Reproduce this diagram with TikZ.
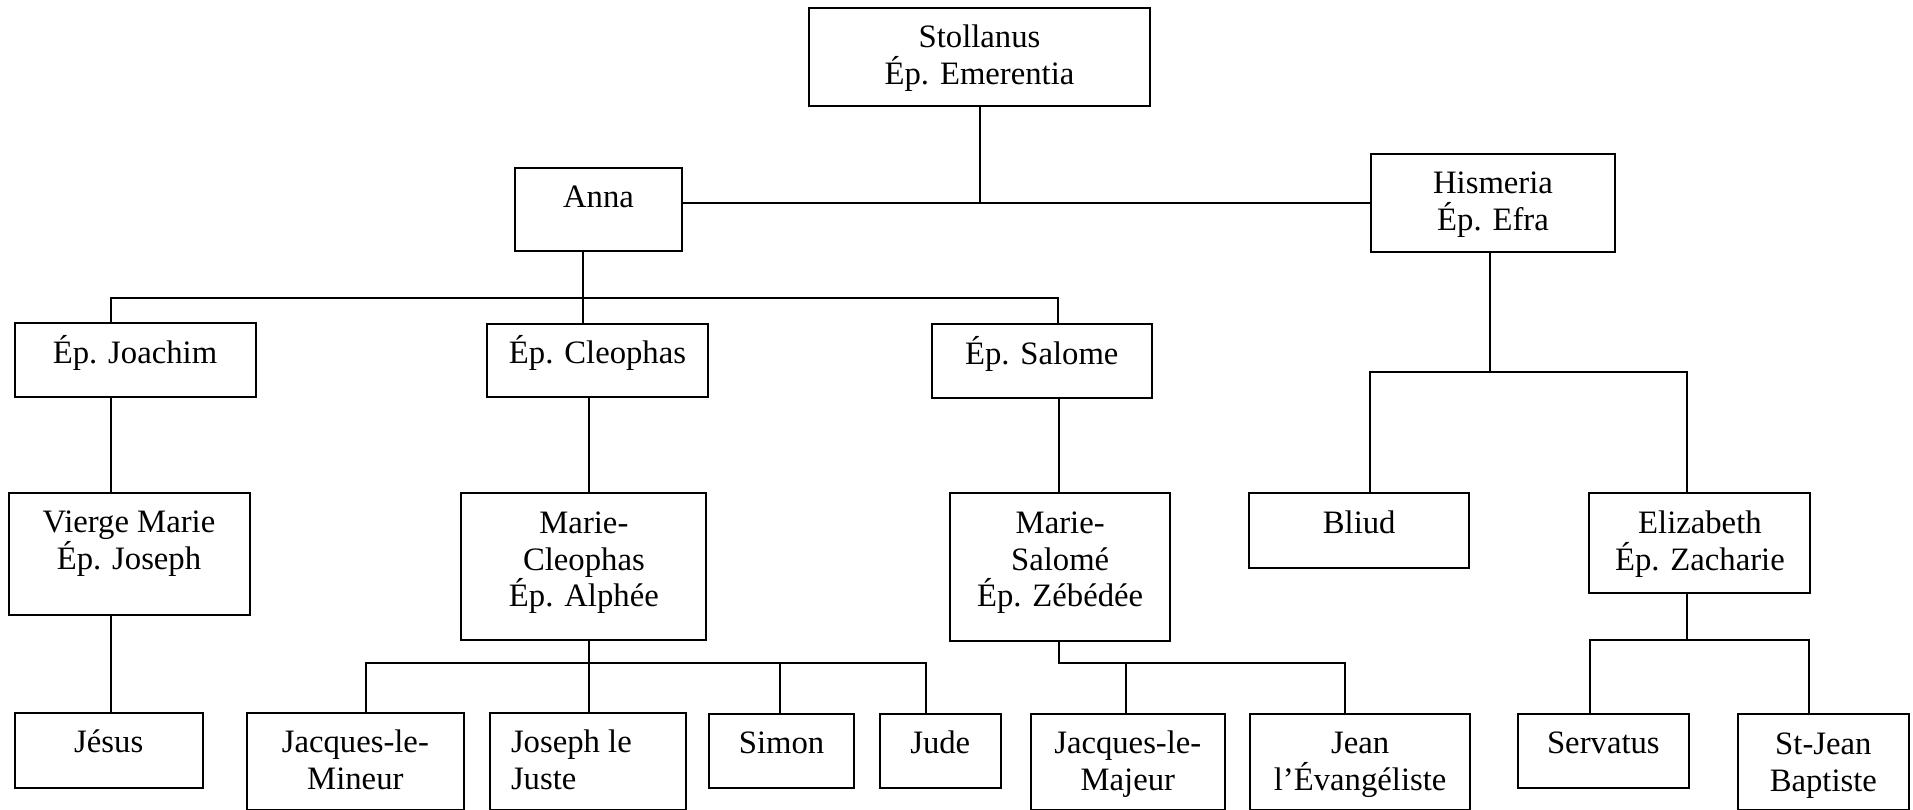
\documentclass[tikz,border=0pt]{standalone}
\usepackage{fontspec}
\setmainfont{Liberation Serif}
\usepackage{tikz}
\usetikzlibrary{positioning,calc}
\newcommand{\famstrut}{\rule{0pt}{32pt}}

\begin{document}
\begin{tikzpicture}[x=1pt, y=-1pt, line width=2pt]
   \useasboundingbox (0,0) rectangle (1913,810);
   \begin{scope}[every node/.style={draw, rectangle, inner sep=0pt, anchor=north west}]
    \node (stollanus) [minimum width=341pt, minimum height=98pt] at (808,7) {};
    \node (anna) [minimum width=167pt, minimum height=83pt] at (514,167) {};
    \node (hismeria) [minimum width=244pt, minimum height=98pt] at (1370,153) {};
    \node (joachim) [minimum width=241pt, minimum height=73.5pt] at (13.5,322.3) {};
    \node (cleophas) [minimum width=221pt, minimum height=73pt] at (486,322.7) {};
    \node (salome) [minimum width=219.5pt, minimum height=73.5pt] at (931,323) {};
    \node (vierge) [minimum width=241pt, minimum height=122.3pt] at (7.5,491.7) {};
    \node (mcleophas) [minimum width=245pt, minimum height=146.7pt] at (460.4,492.3) {};
    \node (msalome) [minimum width=219.7pt, minimum height=147.4pt] at (949.3,492.3) {};
    \node (bliud) [minimum width=219.6pt, minimum height=74.4pt] at (1248.4,492.3) {};
    \node (elizabeth) [minimum width=221pt, minimum height=99.4pt] at (1588.4,492.3) {};
    \node (jesus) [minimum width=188.5pt, minimum height=75pt] at (13.5,711.7) {};
    \node (jmineur) [minimum width=216.7pt, minimum height=97.3pt] at (246,711.7) {};
    \node (joseph) [minimum width=196pt, minimum height=97.3pt] at (488.5,711.7) {};
    \node (simon) [minimum width=144.5pt, minimum height=74pt] at (708.3,712.7) {};
    \node (jude) [minimum width=121.5pt, minimum height=74pt] at (878.5,712.7) {};
    \node (jmajeur) [minimum width=193.6pt, minimum height=96.3pt] at (1030,712.7) {};
    \node (jean) [minimum width=220.3pt, minimum height=96.3pt] at (1249,712.7) {};
    \node (servatus) [minimum width=170.7pt, minimum height=74.6pt] at (1517,712.7) {};
    \node (stjean) [minimum width=171.3pt, minimum height=95.7pt] at (1736.7,713.3) {};
   \end{scope}
   \begin{scope}[every node/.style={anchor=north, inner sep=0pt, align=center,
       font=\fontsize{32.7}{36.7}\selectfont}]
    \node (t-stollanus) at ([yshift=-8pt]stollanus.north) {\famstrut Stollanus\\Ép. Emerentia};
    \node (t-anna) at ([yshift=-8pt]anna.north) {\famstrut Anna};
    \node (t-hismeria) at ([yshift=-8pt]hismeria.north) {\famstrut Hismeria\\Ép. Efra};
    \node (t-joachim) at ([yshift=-8pt]joachim.north) {\famstrut Ép. Joachim};
    \node (t-cleophas) at ([yshift=-8pt]cleophas.north) {\famstrut Ép. Cleophas};
    \node (t-salome) at ([yshift=-8pt]salome.north) {\famstrut Ép. Salome};
    \node (t-vierge) at ([yshift=-8pt]vierge.north) {\famstrut Vierge Marie\\Ép. Joseph};
    \node (t-mcleophas) at ([yshift=-8pt]mcleophas.north) {\famstrut Marie-\\Cleophas\\Ép. Alphée};
    \node (t-msalome) at ([yshift=-8pt]msalome.north) {\famstrut Marie-\\Salomé\\Ép. Zébédée};
    \node (t-bliud) at ([yshift=-8pt]bliud.north) {\famstrut Bliud};
    \node (t-elizabeth) at ([yshift=-8pt]elizabeth.north) {\famstrut Elizabeth\\Ép. Zacharie};
    \node (t-jesus) at ([yshift=-8pt]jesus.north) {\famstrut Jésus};
    \node (t-jmineur) at ([yshift=-8pt]jmineur.north) {\famstrut Jacques-le-\\Mineur};
    \node (t-joseph) [anchor=north west, align=left] at ([xshift=21.5pt, yshift=-8pt]joseph.north west) {\famstrut Joseph le\\Juste};
    \node (t-simon) at ([yshift=-8pt]simon.north) {\famstrut Simon};
    \node (t-jude) at ([yshift=-8pt]jude.north) {\famstrut Jude};
    \node (t-jmajeur) at ([yshift=-8pt]jmajeur.north) {\famstrut Jacques-le-\\Majeur};
    \node (t-jean) at ([yshift=-8pt]jean.north) {\famstrut Jean\\l’Évangéliste};
    \node (t-servatus) at ([yshift=-8pt]servatus.north) {\famstrut Servatus};
    \node (t-stjean) at ([yshift=-8pt]stjean.north) {\famstrut St-Jean\\Baptiste};
   \end{scope}
   % branch points
   \coordinate (ka) at (110.5,298.3);
   \coordinate (kb) at (583,298.3);
   \coordinate (kc) at (1058.3,298.3);
   \coordinate (kd) at (589.3,663.3);
   \coordinate (ke) at (366.1,663.3);
   \coordinate (kf) at (926.3,663.3);
   \coordinate (kg) at (780,663.3);
   \coordinate (kh) at (1058.5,663.3);
   \coordinate (ki) at (1125.5,663.3);
   \coordinate (kj) at (1345.2,663.3);
   \coordinate (kk) at (1490.4,371.7);
   \coordinate (kl) at (1370,371.7);
   \coordinate (km) at (1686.5,371.7);
   \coordinate (kn) at (1686.5,639.7);
   \coordinate (ko) at (1590.3,639.7);
   \coordinate (kp) at (1809.3,639.7);
   % Stollanus
   \draw (stollanus) -- (stollanus |- hismeria);
   \draw (anna.east |- hismeria) -- (hismeria);
   % Anna
   \draw (joachim.north -| ka) |- (kc) -- (salome.north -| kc);
   \draw (anna.south -| kb) -- (cleophas.north -| kb);
   \draw (joachim.south -| ka) -- (vierge.north -| ka);
   \draw (vierge.south -| ka) -- (jesus.north -| ka);
   % Marie-Cleophas
   \draw (cleophas.south -| kd) -- (mcleophas.north -| kd);
   \draw (mcleophas.south -| kd) -- (joseph.north -| kd);
   \draw (jmineur.north -| ke) |- (kf) -- (jude.north -| kf);
   \draw (kg) -- (simon.north -| kg);
   % Marie-Salome
   \draw (salome.south -| kh) -- (msalome.north -| kh);
   \draw (msalome.south -| kh) |- (kj) -- (jean.north -| kj);
   \draw (ki) -- (jmajeur.north -| ki);
   % Hismeria
   \draw (hismeria.south -| kk) -- (kk);
   \draw (bliud.north -| kl) |- (km) -- (elizabeth.north -| km);
   % Elizabeth
   \draw (elizabeth.south -| kn) -- (kn);
   \draw (servatus.north -| ko) |- (kp) -- (stjean.north -| kp);
\end{tikzpicture}
\end{document}
